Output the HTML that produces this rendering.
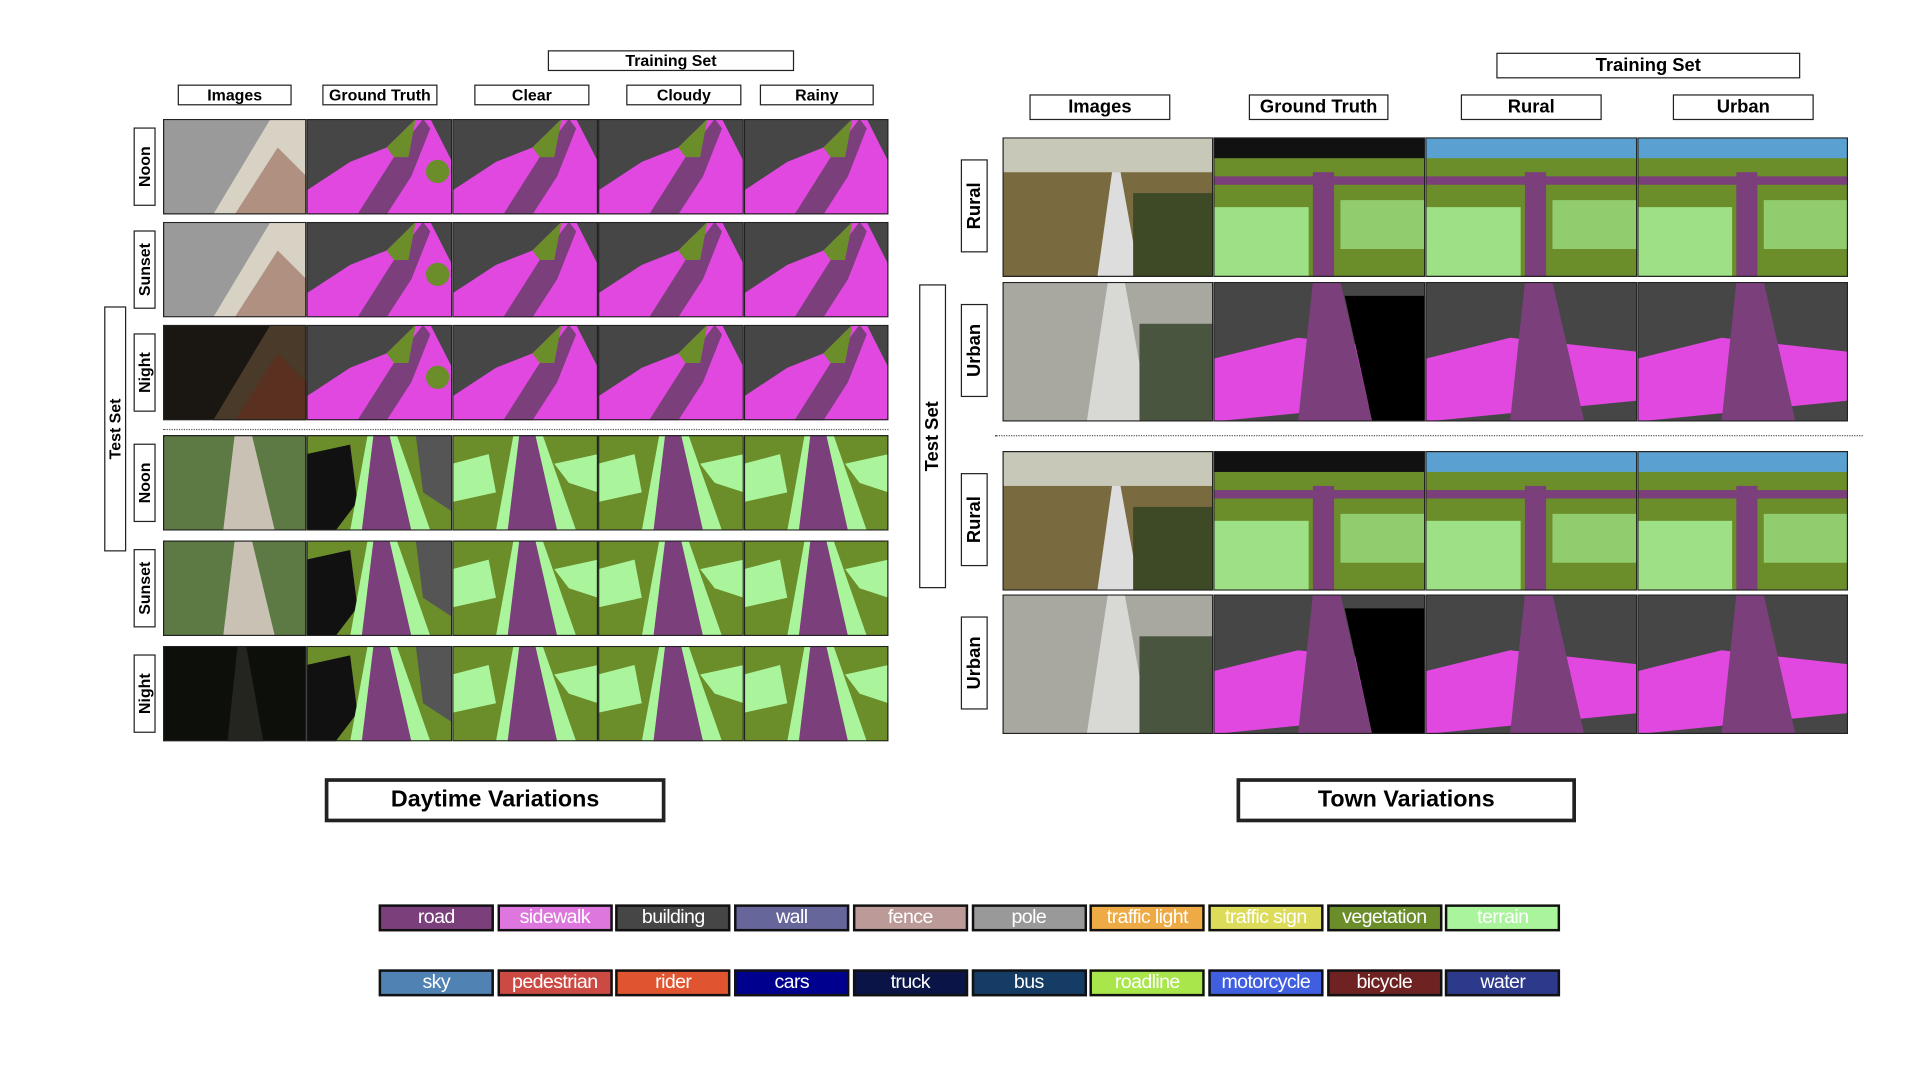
<!DOCTYPE html>
<html><head><meta charset="utf-8">
<style>
html,body{margin:0;padding:0;background:#fff;width:1920px;height:1080px;overflow:hidden}
#wrap{position:absolute;left:0;top:0;width:1560px;height:877px;transform:scale(1.2255);transform-origin:0 0;font-family:"Liberation Sans",Arial,sans-serif}
.box{position:absolute;border:1.5px solid #222;box-sizing:border-box;background:#fff;display:flex;align-items:center;justify-content:center;font-weight:bold;color:#000;font-size:13px}
.vbox{position:absolute;border:1.5px solid #222;box-sizing:border-box;background:#fff}
.vbox span{position:absolute;left:50%;top:50%;transform:translate(-50%,-50%) rotate(-90deg);font-weight:bold;font-size:13px;white-space:nowrap}
.big{border-width:3px;font-size:19px}
.cell{position:absolute;overflow:hidden}
.leg{position:absolute;height:22px;width:94px;border:2px solid #111;box-sizing:border-box;color:#fff;font-size:16px;display:flex;align-items:center;justify-content:center;white-space:nowrap;letter-spacing:-0.5px}
.dots{position:absolute;border-top:1.5px dotted #555;height:0}
</style></head><body>
<div id="wrap">
<div class="box" style="left:447px;top:41px;width:201px;height:17px">Training Set</div>
<div class="box" style="left:145px;top:69px;width:93px;height:17px">Images</div>
<div class="box" style="left:263px;top:69px;width:94px;height:17px">Ground Truth</div>
<div class="box" style="left:387px;top:69px;width:94px;height:17px">Clear</div>
<div class="box" style="left:511px;top:69px;width:94px;height:17px">Cloudy</div>
<div class="box" style="left:620px;top:69px;width:93px;height:17px">Rainy</div>
<div class="vbox" style="left:85px;top:250px;width:18px;height:200px"><span>Test Set</span></div>
<div class="dots" style="left:133px;top:350px;width:592px"></div>
<div class="box big" style="left:265px;top:635px;width:278px;height:36px">Daytime Variations</div>
<div class="box" style="left:1221px;top:43px;width:248px;height:21px;font-size:15px">Training Set</div>
<div class="box" style="left:840px;top:77px;width:115px;height:21px;font-size:15px">Images</div>
<div class="box" style="left:1019px;top:77px;width:114px;height:21px;font-size:15px">Ground Truth</div>
<div class="box" style="left:1192px;top:77px;width:115px;height:21px;font-size:15px">Rural</div>
<div class="box" style="left:1365px;top:77px;width:115px;height:21px;font-size:15px">Urban</div>
<div class="vbox" style="left:750px;top:232px;width:22px;height:248px"><span style="font-size:15px">Test Set</span></div>
<div class="dots" style="left:812px;top:355px;width:708px"></div>
<div class="box big" style="left:1009px;top:635px;width:277px;height:36px">Town Variations</div>
</div>
<script>
const wrap=document.getElementById('wrap');
const legendNames=['road','sidewalk','building','wall','fence','pole','traffic light','traffic sign','vegetation','terrain','sky','pedestrian','rider','cars','truck','bus','roadline','motorcycle','bicycle','water'];
const legendColors=['#7b3f7b','#dd77dd','#464646','#66669a','#bb9a98','#999999','#eeaa44','#dcdc5a','#6b8e2a','#aaf59c','#5082b4','#cc4a44','#e05530','#00008e','#0a1446','#143c64','#a8e64c','#3f5fe0','#6e2222','#2d3a8c'];
legendNames.forEach((n,i)=>{
  const d=document.createElement('div');
  d.className='leg';
  d.style.left=(309+(i%10)*96.7)+'px';
  d.style.top=(i<10?738:791)+'px';
  d.style.background=legendColors[i];
  d.textContent=n;
  
  
  wrap.appendChild(d);
});
const leftRows=['Noon','Sunset','Night','Noon','Sunset','Night'];
const leftRowTops=[97,181,265,355,441,527];
const rightRows=['Rural','Urban','Rural','Urban'];
const rightRowTops=[112,230,368,485];
leftRows.forEach((r,i)=>{
  const d=document.createElement('div');d.className='vbox';
  d.style.cssText+='left:109px;top:'+(leftRowTops[i]+7)+'px;width:18px;height:64px';
  d.innerHTML='<span>'+r+'</span>';
  
  
  wrap.appendChild(d);
});
rightRows.forEach((r,i)=>{
  const d=document.createElement('div');d.className='vbox';
  d.style.cssText+='left:784px;top:'+(rightRowTops[i]+18)+'px;width:22px;height:76px';
  d.innerHTML='<span style="font-size:15px">'+r+'</span>';
  
  
  wrap.appendChild(d);
});
function city(kind,w,h){
  if(kind==='img'||kind==='imgN'){
    const a=kind==='img'?'#9a9a9a':'#1a1712',b=kind==='img'?'#d8d2c4':'#4a3a2a';
    return `<rect width="${w}" height="${h}" fill="${a}"/><polygon points="${w*.35},${h} ${w*.75},0 ${w},0 ${w},${h}" fill="${b}"/><polygon points="${w*.5},${h} ${w*.8},${h*.3} ${w},${h*.6} ${w},${h}" fill="${kind==='img'?'#b09080':'#5a3020'}"/>`;
  }
  let s=`<rect width="${w}" height="${h}" fill="#464646"/>`;
  s+=`<polygon points="0,${h} 0,${h*.75} ${w*.3},${h*.45} ${w*.55},${h*.3} ${w*.75},0 ${w*.85},0 ${w},${h*.45} ${w},${h}" fill="#e048e0"/>`;
  s+=`<polygon points="${w*.35},${h} ${w*.6},${h*.4} ${w*.8},0 ${w*.85},${h*.1} ${w*.72},${h*.6} ${w*.55},${h}" fill="#7b3f7b"/>`;
  s+=`<polygon points="${w*.55},${h*.3} ${w*.75},0 ${w*.7},${h*.4} ${w*.6},${h*.4}" fill="#6b8e2a"/>`;
  if(kind==='segG')s+=`<circle cx="${w*.9}" cy="${h*.55}" r="${w*.08}" fill="#6b8e2a"/>`;
  return s;
}
function rural(kind,w,h){
  if(kind==='img'||kind==='imgN'){
    if(kind==='imgN')return `<rect width="${w}" height="${h}" fill="#0d100a"/><polygon points="${w*.45},${h} ${w*.52},0 ${w*.58},0 ${w*.7},${h}" fill="#252520"/>`;
    return `<rect width="${w}" height="${h}" fill="#5d7a45"/><polygon points="${w*.42},${h} ${w*.5},0 ${w*.62},0 ${w*.78},${h}" fill="#c9c2b4"/>`;
  }
  let s=`<rect width="${w}" height="${h}" fill="#6b8e2a"/>`;
  if(kind==='segG'){s+=`<polygon points="0,${h*.2} ${w*.3},${h*.1} ${w*.35},${h*.7} ${w*.2},${h} 0,${h}" fill="#111"/><polygon points="${w*.75},0 ${w},0 ${w},${h*.8} ${w*.8},${h*.6}" fill="#555"/>`;}
  else{s+=`<polygon points="0,${h*.3} ${w*.25},${h*.2} ${w*.3},${h*.6} 0,${h*.7}" fill="#aaf59c"/><polygon points="${w*.7},${h*.3} ${w},${h*.2} ${w},${h*.6} ${w*.8},${h*.5}" fill="#aaf59c"/>`;}
  s+=`<polygon points="${w*.3},${h} ${w*.42},0 ${w*.62},0 ${w*.85},${h}" fill="#aaf59c"/>`;
  s+=`<polygon points="${w*.38},${h} ${w*.46},0 ${w*.57},0 ${w*.72},${h}" fill="#7b3f7b"/>`;
  return s;
}
function town(kind,type,w,h){
  if(kind==='img'){
    if(type==='rural')return `<rect width="${w}" height="${h*.25}" fill="#c8c8b8"/><rect y="${h*.25}" width="${w}" height="${h*.75}" fill="#7a6a40"/><polygon points="${w*.45},${h} ${w*.52},${h*.25} ${w*.56},${h*.25} ${w*.65},${h}" fill="#ddd"/><rect x="${w*.62}" y="${h*.4}" width="${w*.38}" height="${h*.6}" fill="#3d4a25"/>`;
    return `<rect width="${w}" height="${h}" fill="#a8a8a0"/><polygon points="${w*.4},${h} ${w*.5},0 ${w*.58},0 ${w*.7},${h}" fill="#d8d8d4"/><rect x="${w*.65}" y="${h*.3}" width="${w*.35}" height="${h*.7}" fill="#4a5540"/>`;
  }
  if(type==='rural'){
    let s=`<rect width="${w}" height="${h}" fill="#6b8e2a"/><rect width="${w}" height="${h*.15}" fill="${kind==='segG'?'#111':'#5aa0d0'}"/>`;
    s+=`<rect x="0" y="${h*.5}" width="${w*.45}" height="${h*.5}" fill="#aaf59c" opacity=".8"/><rect x="${w*.6}" y="${h*.45}" width="${w*.4}" height="${h*.35}" fill="#aaf59c" opacity=".6"/>`;
    s+=`<rect x="${w*.47}" y="${h*.25}" width="${w*.1}" height="${h*.75}" fill="#7b3f7b"/><rect x="0" y="${h*.28}" width="${w}" height="${h*.06}" fill="#7b3f7b"/>`;
    return s;
  }
  let s=`<rect width="${w}" height="${h}" fill="#464646"/>`;
  s+=`<polygon points="0,${h*.55} ${w*.4},${h*.4} ${w},${h*.5} ${w},${h*.85} 0,${h}" fill="#e048e0"/>`;
  s+=`<polygon points="${w*.4},${h} ${w*.47},0 ${w*.6},0 ${w*.75},${h}" fill="#7b3f7b"/>`;
  if(kind==='segG')s+=`<polygon points="${w*.62},${h*.1} ${w},${h*.1} ${w},${h} ${w*.75},${h}" fill="#000"/>`;
  return s;
}
function addCell(x,y,w,h,svg,name){
  const d=document.createElement('div');d.className='cell';
  d.style.cssText+=`left:${x}px;top:${y}px;width:${w}px;height:${h}px`;
  d.innerHTML=`<svg width="${w}" height="${h}" style="display:block">${svg}<rect x=".5" y=".5" width="${w-1}" height="${h-1}" fill="none" stroke="#222"/></svg>`;
  
  
  wrap.appendChild(d);
}
const leftCols=[133,250,369,488,607,725];
const leftColNames=['image','ground-truth','clear','cloudy','rainy'];
leftRowTops.forEach((y,r)=>{
  for(let c=0;c<5;c++){
    const x=leftCols[c],w=leftCols[c+1]-x,h=78;
    const kind=c===0?(r%3===2?'imgN':'img'):(c===1?'segG':'seg');
    const svg=r<3?city(kind,w,h):rural(kind,w,h);
    addCell(x,y,w,h,svg,'daytime-'+leftRows[r].toLowerCase()+'-'+leftColNames[c]);
  }
});
const rightCols=[818,990,1163,1336,1508];
const rightColNames=['image','ground-truth','rural','urban'];
rightRowTops.forEach((y,r)=>{
  for(let c=0;c<4;c++){
    const x=rightCols[c],w=rightCols[c+1]-x,h=114;
    const kind=c===0?'img':(c===1?'segG':'seg');
    const type=rightRows[r].toLowerCase();
    addCell(x,y,w,h,town(kind,type,w,h),'town-'+type+'-'+rightColNames[c]);
  }
});
</script>
</body></html>
